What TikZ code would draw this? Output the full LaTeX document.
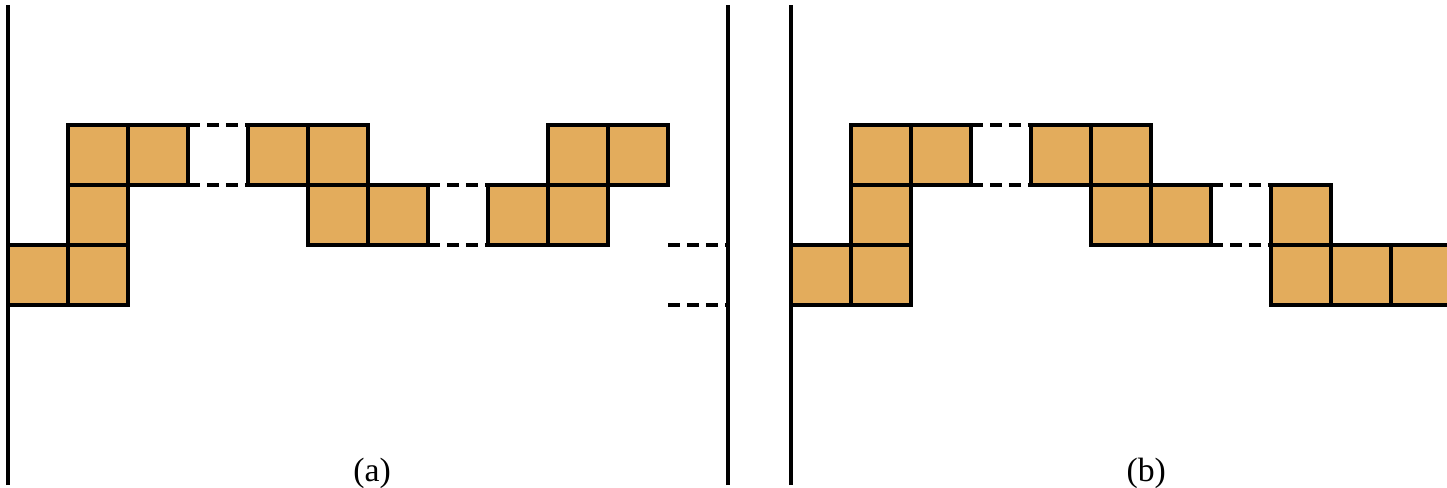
\documentclass[tikz,border=0pt]{standalone}
\usepackage{fontspec}
\setmainfont{Liberation Serif}
\definecolor{tilefill}{RGB}{227,172,92}
\begin{document}
\begin{tikzpicture}[x=1cm, y=1cm,
                    cell/.style={draw, fill=tilefill, line width=1.6pt, minimum size=1cm, inner sep=0pt, outer sep=0pt},
                    gap/.style={line width=1.6pt, dash pattern=on 5.6pt off 3.4pt},
                    wall/.style={line width=1.6pt}]
\useasboundingbox (-0.1333,-3.0333) rectangle (23.983,5.0833);
% walls
\draw[wall] (0,-3) -- (0,5);
\draw[wall] (12,-3) -- (12,5);
\draw[wall] (13.05,-3) -- (13.05,5);
% (a)
\foreach \x/\y [count=\i] in {0/0,1/0,1/1,1/2,2/2,4/2,5/2,5/1,6/1,8/1,9/1,9/2,10/2}
    \node[cell] (a\i) at (\x+.5,\y+.5) {};
\coordinate (sa0) at (11,0);
\coordinate (sa1) at (11,1);
\coordinate (ta0) at (12,0);
\coordinate (ta1) at (12,1);
\draw[gap] (a5.north east) -- (a6.north west);
\draw[gap] (a5.south east) -- (a6.south west);
\draw[gap] (a9.north east) -- (a10.north west);
\draw[gap] (a9.south east) -- (a10.south west);
\draw[gap] (sa0) -- (ta0);
\draw[gap] (sa1) -- (ta1);
\node (la) at (6.07,-2.8) {\fontsize{16}{19}\selectfont (a)};
% (b)
\foreach \x/\y [count=\i] in {0/0,1/0,1/1,1/2,2/2,4/2,5/2,5/1,6/1,8/1,8/0,9/0,10/0}
    \node[cell] (b\i) at (13.05+\x+.5,\y+.5) {};
\draw[gap] (b5.north east) -- (b6.north west);
\draw[gap] (b5.south east) -- (b6.south west);
\draw[gap] (b9.north east) -- (b10.north west);
\draw[gap] (b9.south east) -- (b10.south west);
\node (lb) at (18.97,-2.8) {\fontsize{16}{19}\selectfont (b)};
\end{tikzpicture}
\end{document}
